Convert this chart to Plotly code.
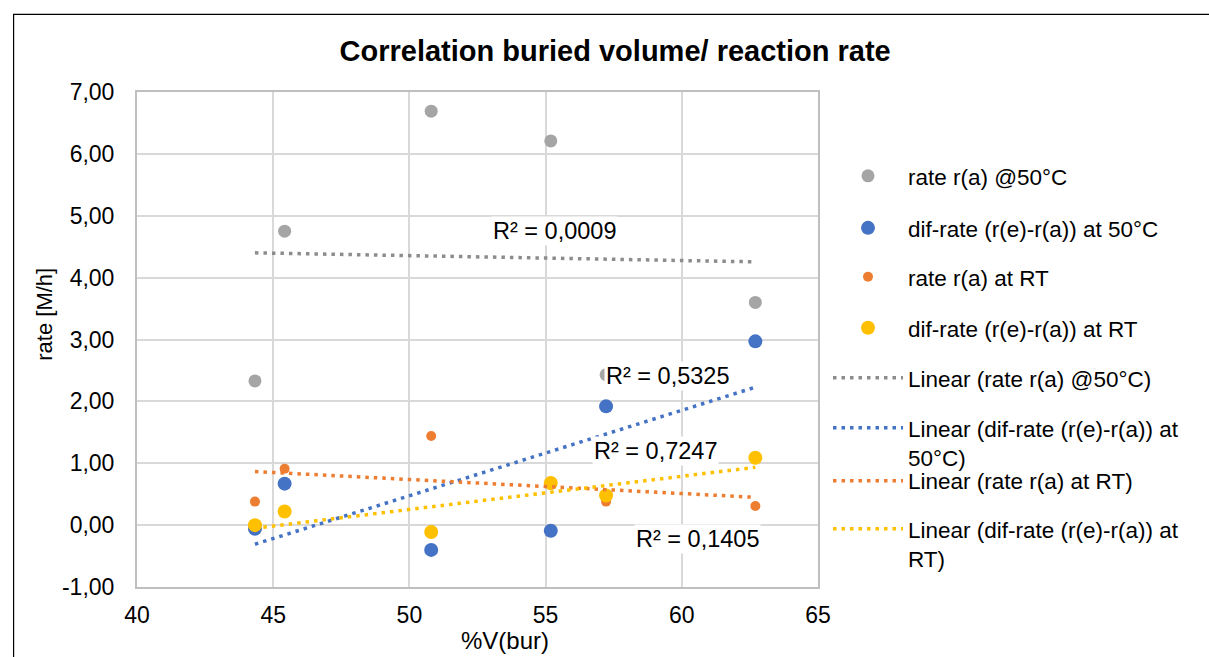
import numpy as np
import plotly.graph_objects as go

vbur = [44.33, 45.42, 50.80, 55.19, 57.22, 62.70]
rate_50 = [2.33, 4.75, 6.69, 6.21, 2.43, 3.60]
dif_50 = [-0.06, 0.67, -0.40, -0.09, 1.92, 2.97]
rate_rt = [0.38, 0.91, 1.44, 0.65, 0.38, 0.31]
dif_rt = [0.00, 0.22, -0.11, 0.68, 0.48, 1.09]

y_ticks = [-1, 0, 1, 2, 3, 4, 5, 6, 7]
y_tick_labels = ["-1,00", "0,00", "1,00", "2,00", "3,00", "4,00", "5,00", "6,00", "7,00"]

names = ["rate r(a) @50°C", "dif-rate (r(e)-r(a)) at 50°C",
         "rate r(a) at RT", "dif-rate (r(e)-r(a)) at RT"]
trend_names = ["Linear (rate r(a) @50°C)",
               "Linear (dif-rate (r(e)-r(a)) at<br>50°C)",
               "Linear (rate r(a) at RT)",
               "Linear (dif-rate (r(e)-r(a)) at<br>RT)"]
r2_labels = ["R² = 0,0009", "R² = 0,5325", "R² = 0,1405", "R² = 0,7247"]
r2_pos = [(55.33, 4.75), (59.49, 2.41), (60.56, -0.23), (59.05, 1.20)]

series = [rate_50, dif_50, rate_rt, dif_rt]
colors = ["#A5A5A5", "#4472C4", "#ED7D31", "#FFC000"]
trend_colors = ["#8C8C8C", "#4472C4", "#ED7D31", "#FFC000"]
msize = [13, 14, 10, 14]

FONT = "Liberation Sans, Arial, sans-serif"
fig = go.Figure()

PL, PR, PT, PB = 136.5, 818.0, 91.7, 587.0
def py(px):
    return (PB - px) / (PB - PT)
def pxx(px):
    return (px - PL) / (PR - PL)

# legend entry centre rows (px), first line for two-line entries
leg_y_px = [176, 228, 277, 328, 378, 428, 481, 529]
two_line = {5, 7}
LEG_FS = 22.5

for i, (ys, c) in enumerate(zip(series, colors)):
    fig.add_trace(go.Scatter(
        x=vbur, y=ys, mode="markers", name=names[i],
        marker=dict(color=c, size=msize[i], line=dict(width=0)),
        legend="legend" if i == 0 else f"legend{i+1}"))

for i, ys in enumerate(series):
    k, b = np.polyfit(vbur, ys, 1)
    xs = [vbur[0], vbur[-1]]
    fig.add_trace(go.Scatter(
        x=xs, y=[k * xx + b for xx in xs], mode="lines", name=trend_names[i],
        line=dict(color=trend_colors[i], width=3.5, dash="3.5px,5px"),
        legend=f"legend{i+5}"))

layout_legends = {}
for j in range(8):
    key = "legend" if j == 0 else f"legend{j+1}"
    ypx = leg_y_px[j] + (LEG_FS * 1.3 / 2 if j in two_line else 0)
    layout_legends[key] = dict(
        x=pxx(828), y=py(ypx), xanchor="left", yanchor="middle",
        valign="top",
        font=dict(family=FONT, size=LEG_FS, color="#000"),
        bgcolor="rgba(0,0,0,0)", itemwidth=70, borderwidth=0)

for (xx, yy), t in zip(r2_pos, r2_labels):
    fig.add_annotation(x=xx, y=yy, text=t, showarrow=False,
                       font=dict(family=FONT, size=23.5, color="#000"),
                       bgcolor="white", borderpad=1)

# axis titles
fig.add_annotation(xref="paper", yref="paper", x=pxx(44), y=py(314),
                   text="rate [M/h]", textangle=-90, showarrow=False,
                   xanchor="center", yanchor="middle",
                   font=dict(family=FONT, size=22, color="#000"))
fig.add_annotation(xref="paper", yref="paper", x=pxx(505), y=py(641),
                   text="%V(bur)", showarrow=False,
                   xanchor="center", yanchor="middle",
                   font=dict(family=FONT, size=24, color="#000"))

fig.add_shape(type="rect", xref="paper", yref="paper",
              x0=pxx(13), x1=pxx(1215), y0=py(670), y1=py(14),
              line=dict(color="#000", width=1.2), layer="below")

fig.update_layout(
    width=1209, height=657,
    margin=dict(l=PL, r=1209 - PR, t=PT, b=657 - PB),
    paper_bgcolor="white", plot_bgcolor="white",
    separators=",.",
    title=dict(text="<b>Correlation buried volume/ reaction rate</b>",
               x=pxx(615), xref="paper", xanchor="center",
               y=1 - 51 / 657, yanchor="middle",
               font=dict(family=FONT, size=29, color="#000")),
    xaxis=dict(range=[40, 65], dtick=5, tick0=40,
               showgrid=True, gridcolor="#D9D9D9", gridwidth=2,
               showline=True, linecolor="#BFBFBF", linewidth=2, mirror=True,
               zeroline=False, ticks="", ticklabelstandoff=6,
               tickfont=dict(family=FONT, size=23, color="#000")),
    yaxis=dict(range=[-1, 7], tickmode="array", tickvals=y_ticks,
               ticktext=y_tick_labels,
               showgrid=True, gridcolor="#D9D9D9", gridwidth=2,
               showline=True, linecolor="#BFBFBF", linewidth=2, mirror=True,
               zeroline=False, ticks="", ticklabelstandoff=16,
               tickfont=dict(family=FONT, size=23, color="#000")),
    showlegend=True,
    **layout_legends,
)

fig.write_html("out.html")
